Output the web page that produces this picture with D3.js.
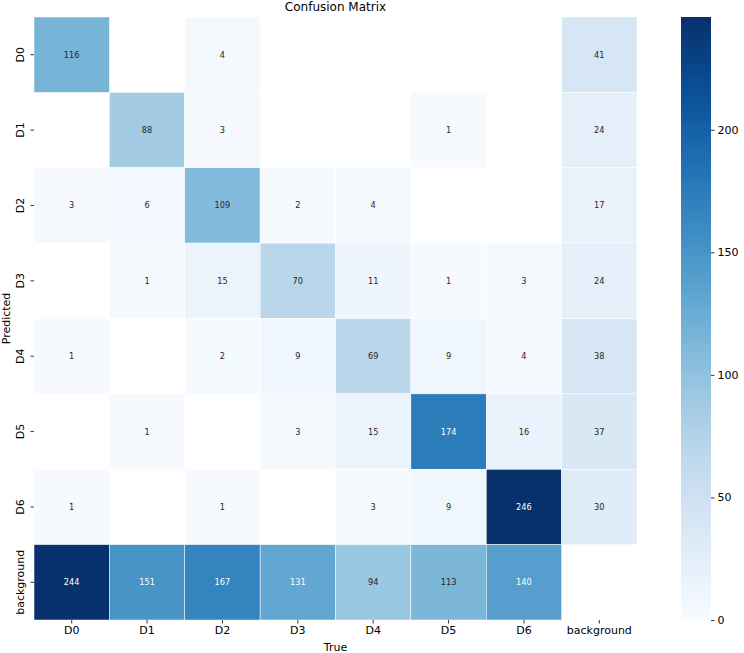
<!DOCTYPE html>
<html>
<head>
<meta charset="utf-8">
<script src="https://cdn.jsdelivr.net/npm/d3@7"></script>
<style>
  body { margin: 0; background: #fff; }
  svg { font-family: "DejaVu Sans", sans-serif; }
</style>
</head>
<body>
<div id="chart"></div>
<script>
// confusion matrix, rows = predicted, cols = true
const labels = ["D0", "D1", "D2", "D3", "D4", "D5", "D6", "background"];
const rowD0 = [116, 0, 4, 0, 0, 0, 0, 41];
const rowD1 = [0, 88, 3, 0, 0, 1, 0, 24];
const rowD2 = [3, 6, 109, 2, 4, 0, 0, 17];
const rowD3 = [0, 1, 15, 70, 11, 1, 3, 24];
const rowD4 = [1, 0, 2, 9, 69, 9, 4, 38];
const rowD5 = [0, 1, 0, 3, 15, 174, 16, 37];
const rowD6 = [1, 0, 1, 0, 3, 9, 246, 30];
const rowBg = [244, 151, 167, 131, 94, 113, 140, 0];
const matrix = [rowD0, rowD1, rowD2, rowD3, rowD4, rowD5, rowD6, rowBg];
const cbarTicks = [0, 50, 100, 150, 200];

const svgWidth = 744, svgHeight = 653;
const marginLeft = 34, marginTop = 17, size = 603;
const tickFont = 11;

const svg = d3.select("#chart").append("svg")
    .attr("width", svgWidth)
    .attr("height", svgHeight);

const x = d3.scaleBand().domain(labels).range([marginLeft, marginLeft + size]);
const y = d3.scaleBand().domain(labels).range([marginTop, marginTop + size]);
const vmax = d3.max(matrix.flat());
const color = d3.scaleSequential(d3.interpolateBlues).domain([0, vmax]);

const cells = [];
matrix.forEach((row, i) => row.forEach((v, j) => {
    if (v > 0) cells.push({ pred: labels[i], truth: labels[j], v: v });
}));

svg.append("g").selectAll("rect")
    .data(cells)
    .enter().append("rect")
    .attr("x", d => x(d.truth))
    .attr("y", d => y(d.pred))
    .attr("width", x.bandwidth())
    .attr("height", y.bandwidth())
    .attr("fill", d => color(d.v))
    .attr("stroke", "#fff")
    .attr("stroke-width", 0.5);

// text colour flips on dark cells (relative luminance, like seaborn)
function textColor(v) {
    const c = d3.rgb(color(v));
    const lin = u => { u = u / 255; return u <= 0.03928 ? u / 12.92 : Math.pow((u + 0.055) / 1.055, 2.4); };
    const lum = 0.2126 * lin(c.r) + 0.7152 * lin(c.g) + 0.0722 * lin(c.b);
    return lum <= 0.408 ? "#fff" : "#262626";
}

svg.append("g").selectAll("text")
    .data(cells)
    .enter().append("text")
    .attr("x", d => x(d.truth) + x.bandwidth() / 2)
    .attr("y", d => y(d.pred) + y.bandwidth() / 2)
    .attr("text-anchor", "middle")
    .attr("dominant-baseline", "central")
    .attr("font-size", 8.2)
    .attr("fill", d => textColor(d.v))
    .text(d => d.v);

// axes
const xAxis = svg.append("g")
    .attr("transform", `translate(0,${marginTop + size})`)
    .call(d3.axisBottom(x).tickSize(3.5).tickPadding(3));
xAxis.select(".domain").remove();
xAxis.selectAll("text").attr("font-size", tickFont).attr("fill", "#000").attr("font-family", "DejaVu Sans");
xAxis.selectAll("line").attr("stroke", "#000").attr("stroke-width", 0.8);

const yAxis = svg.append("g")
    .attr("transform", `translate(${marginLeft},0)`)
    .call(d3.axisLeft(y).tickSize(3.5).tickPadding(3));
yAxis.select(".domain").remove();
yAxis.selectAll("line").attr("stroke", "#000").attr("stroke-width", 0.8);
yAxis.selectAll("text")
    .attr("font-size", tickFont).attr("fill", "#000").attr("font-family", "DejaVu Sans")
    .attr("text-anchor", "middle")
    .attr("dy", null)
    .attr("dominant-baseline", "auto")
    .attr("transform", "translate(-10,0) rotate(-90)")
    .attr("x", 0).attr("y", 0);

svg.append("text")
    .text("Confusion Matrix")
    .attr("x", marginLeft + size / 2)
    .attr("y", 11)
    .attr("text-anchor", "middle")
    .attr("font-size", 12);

svg.append("text")
    .text("True")
    .attr("x", marginLeft + size / 2)
    .attr("y", 651)
    .attr("text-anchor", "middle")
    .attr("font-size", tickFont);

svg.append("text")
    .text("Predicted")
    .attr("transform", `translate(10,${marginTop + size / 2}) rotate(-90)`)
    .attr("text-anchor", "middle")
    .attr("font-size", tickFont);

// colorbar
const cbX = 681, cbW = 30;
const cy = d3.scaleLinear().domain([0, vmax]).range([marginTop + size, marginTop]);
const defs = svg.append("defs");
const grad = defs.append("linearGradient")
    .attr("id", "cbar").attr("x1", 0).attr("y1", 1).attr("x2", 0).attr("y2", 0);
d3.range(0, 1.0001, 0.05).forEach(t => {
    grad.append("stop").attr("offset", t).attr("stop-color", color(t * vmax));
});
svg.append("rect")
    .attr("x", cbX).attr("y", marginTop)
    .attr("width", cbW).attr("height", size)
    .attr("fill", "url(#cbar)");

const cAxis = svg.append("g")
    .attr("transform", `translate(${cbX + cbW},0)`)
    .call(d3.axisRight(cy).tickValues(cbarTicks).tickSize(3.5).tickPadding(3));
cAxis.select(".domain").remove();
cAxis.selectAll("line").attr("stroke", "#000").attr("stroke-width", 0.8);
cAxis.selectAll("text").attr("font-size", tickFont).attr("fill", "#000").attr("font-family", "DejaVu Sans");
</script>
</body>
</html>
